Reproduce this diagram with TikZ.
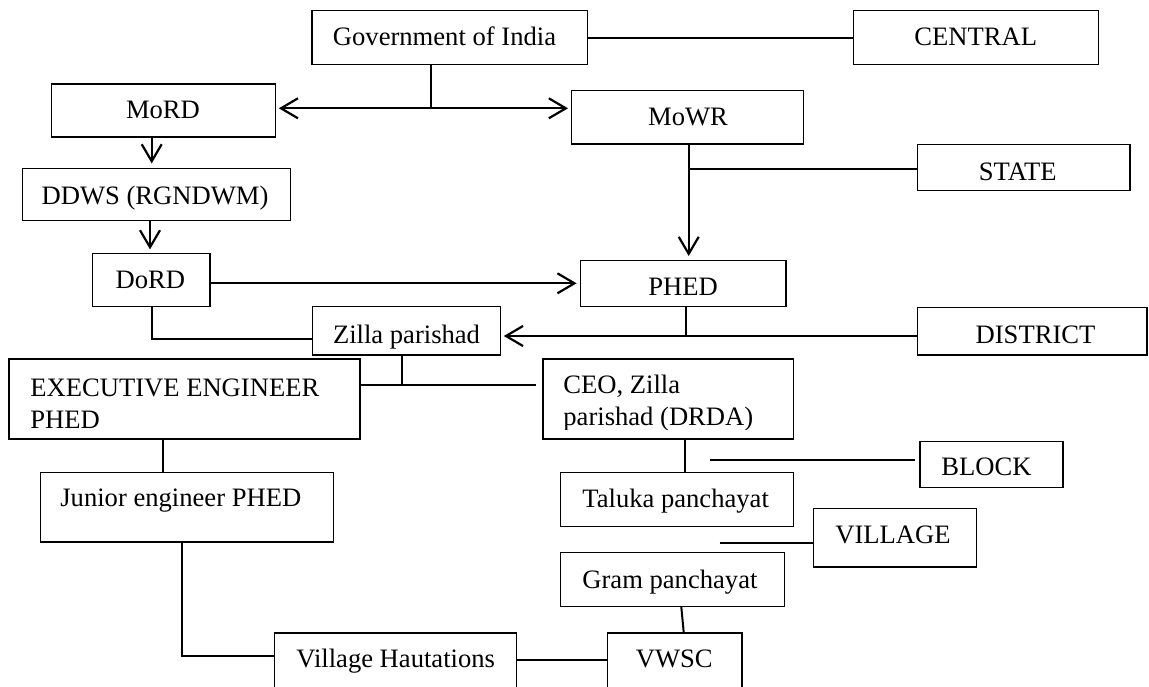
\documentclass[tikz,border=0pt]{standalone}
\usepackage{fontspec}
\setmainfont{Liberation Serif}
\usetikzlibrary{arrows.meta}
\tikzset{
  boxst/.style={draw, line width=0.7pt, inner sep=0pt, rectangle},
  txt/.style={inner sep=0pt, font=\fontsize{13.3}{16}\selectfont},
  conn/.style={line width=1pt},
  arw/.style={line width=1.1pt, -{Straight Barb[length=8.5pt, width=10pt, line width=1.1pt]}},
  darw/.style={line width=1.1pt, {Straight Barb[length=8.5pt, width=10pt, line width=1.1pt]}-{Straight Barb[length=8.5pt, width=10pt, line width=1.1pt]}}
}
\newcommand\mybox[5]{%
  \pgfmathsetmacro\bw{(#4-#2)*0.5}%
  \pgfmathsetmacro\bh{(#5-#3)*0.5}%
  \node[boxst, minimum width=\bw pt, minimum height=\bh pt] (#1) at ({(#2+#4)/2},{(#3+#5)/2}) {};}
\begin{document}
\begin{tikzpicture}[x=0.5pt,y=-0.5pt]
\useasboundingbox (0,0) rectangle (1149,686);
\clip (0,0) rectangle (1149,686);
% boxes
\mybox{gov}{312}{10.7}{587.7}{64.3}
\mybox{central}{853.3}{10.7}{1098.7}{64.3}
\mybox{mord}{51.7}{84}{275.3}{137}
\mybox{mowr}{571.7}{90.7}{803.3}{144}
\mybox{ddws}{22.7}{168.7}{290.7}{220.3}
\mybox{state}{917.7}{144.3}{1130}{190.7}
\mybox{dord}{92.3}{253.7}{210}{306.7}
\mybox{phed}{580.7}{260.7}{786}{306.7}
\mybox{zilla}{312.3}{306.7}{500.3}{355}
\mybox{district}{917.7}{307.3}{1147}{355}
\mybox{ee}{9}{359}{360}{439}
\mybox{ceo}{543}{359}{793.3}{439}
\mybox{je}{40.7}{472.3}{333.3}{542}
\mybox{taluka}{560.7}{472.3}{793.3}{526.3}
\mybox{block}{920}{441.3}{1063}{487.3}
\mybox{village}{813.3}{508.7}{976.7}{567}
\mybox{gram}{560.3}{552.3}{784.3}{606.3}
\mybox{vh}{274.3}{633}{516.3}{720}
\mybox{vwsc}{607.3}{633}{742}{720}
% texts
\node[txt, anchor=base] (tgov) at (444.5,45) {Government of India};
\node[txt, anchor=base] (tcentral) at (975.8,45) {CENTRAL};
\node[txt, anchor=base] (tmord) at (163,118.3) {MoRD};
\node[txt, anchor=base] (tmowr) at (688,125) {MoWR};
\node[txt, anchor=base] (tddws) at (155,204) {DDWS (RGNDWM)};
\node[txt, anchor=base] (tstate) at (1017.7,180) {STATE};
\node[txt, anchor=base] (tdord) at (150.3,288.3) {DoRD};
\node[txt, anchor=base] (tphed) at (683,295) {PHED};
\node[txt, anchor=base] (tzilla) at (406.5,343) {Zilla parishad};
\node[txt, anchor=base] (tdistrict) at (1035.5,343) {DISTRICT};
\node[txt, anchor=base west] (tee1) at (30,396) {EXECUTIVE ENGINEER};
\node[txt, anchor=base west] (tee2) at (30,428) {PHED};
\begin{scope}
  \clip (543,359) rectangle (793,429);
  \node[txt, anchor=base west] (tceo1) at (563,393) {CEO, Zilla};
  \node[txt, anchor=base west] (tceo2) at (563,425) {parishad (DRDA)};
\end{scope}
\node[txt, anchor=base west] (tje) at (60,506) {Junior engineer PHED};
\node[txt, anchor=base west] (ttaluka) at (582,507.3) {Taluka panchayat};
\node[txt, anchor=base west] (tblock) at (941,475.7) {BLOCK};
\node[txt, anchor=base west] (tvillage) at (835,543.7) {VILLAGE};
\node[txt, anchor=base west] (tgram) at (582,588) {Gram panchayat};
\node[txt, anchor=base west] (tvh) at (296,667) {Village Hautations};
\node[txt, anchor=base] (tvwsc) at (674.3,667) {VWSC};
% junction coordinates
\coordinate (jgov) at (431.3,108.3);
\coordinate (xmord) at (151.7,0);
\coordinate (xddws) at (150,0);
\coordinate (ydord) at (0,283.3);
\coordinate (xmowr) at (688.7,0);
\coordinate (jstate) at (688.7,169);
\coordinate (jphed) at (685.7,336);
\coordinate (jdord) at (151.7,339);
\coordinate (jzilla) at (402.3,385.3);
\coordinate (xee) at (163.3,0);
\coordinate (jje) at (181.7,656.3);
\coordinate (xceo) at (685.3,0);
\coordinate (jblock) at (710.3,460.3);
\coordinate (jvillage) at (719.7,543);
\coordinate (xg1) at (681.3,0);
\coordinate (xg2) at (683.7,0);
\coordinate (yvh) at (0,659.7);
% connectors
\draw[conn] (gov.east) -- (central.west);
\draw[conn] (gov.south -| jgov) -- (jgov);
\draw[darw, shorten <=1.4pt, shorten >=1.5pt] (mord.east |- jgov) -- (mowr.west |- jgov);
\draw[arw, shorten >=2.3pt] (mord.south -| xmord) -- (ddws.north -| xmord);
\draw[arw, shorten >=1.8pt] (ddws.south -| xddws) -- (dord.north -| xddws);
\draw[arw, shorten >=1.7pt] (dord.east |- ydord) -- (phed.west |- ydord);
\draw[arw, shorten >=2pt] (mowr.south -| xmowr) -- (phed.north -| xmowr);
\draw[conn] (jstate) -- (state.west |- jstate);
\draw[conn] (phed.south -| jphed) -- (jphed);
\draw[arw, shorten >=1.4pt] (district.west |- jphed) -- (zilla.east |- jphed);
\draw[conn] (dord.south -| jdord) -- (jdord) -- (zilla.west |- jdord);
\draw[conn] (zilla.south -| jzilla) -- (jzilla);
\draw[conn, shorten >=3pt] (ee.east |- jzilla) -- (ceo.west |- jzilla);
\draw[conn] (ee.south -| xee) -- (je.north -| xee);
\draw[conn] (je.south -| jje) -- (jje) -- (vh.west |- jje);
\draw[conn] (ceo.south -| xceo) -- (taluka.north -| xceo);
\draw[conn, shorten >=2pt] (jblock) -- (block.west |- jblock);
\draw[conn] (jvillage) -- (village.west |- jvillage);
\draw[conn] (gram.south -| xg1) -- (vwsc.north -| xg2);
\draw[conn] (vh.east |- yvh) -- (vwsc.west |- yvh);
\end{tikzpicture}
\end{document}
